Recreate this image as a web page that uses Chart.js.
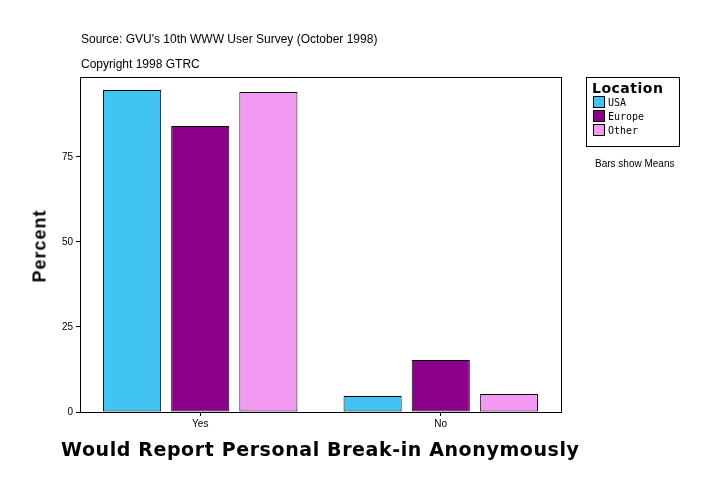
<!DOCTYPE html>
<html><head><meta charset="utf-8">
<script src="https://cdn.jsdelivr.net/npm/chart.js@4"></script>
<style>
body{margin:0;background:#fff;font-family:"Liberation Sans",Arial,sans-serif;}
#wrap{position:relative;width:724px;height:496px;}
canvas{position:absolute;left:0;top:0;}
.t{position:absolute;font-size:12px;color:#000;white-space:nowrap;}
</style></head><body>
<div id="wrap">
<canvas id="c" width="724" height="496"></canvas>
<div class="t" style="left:81px;top:32px">Source: GVU's 10th WWW User Survey (October 1998)</div>
<div class="t" style="left:81px;top:57px">Copyright 1998 GTRC</div>
<div class="t" style="top:246px;font-size:18px;font-weight:bold;letter-spacing:1px;transform:translate(-50%,-50%) rotate(-90deg);left:40px;">Percent</div>
<div class="t" style="left:61px;top:438px;font-size:19px;font-weight:bold;letter-spacing:0.6px;font-family:'DejaVu Sans',sans-serif;">Would Report Personal Break-in Anonymously</div>
<div style="position:absolute;left:586px;top:77px;width:92px;height:68px;border:1px solid #000;font-family:'DejaVu Sans Mono',monospace;">
 <div style="font-size:14px;font-weight:bold;margin:2px 0 0 5px;font-family:'DejaVu Sans',sans-serif;letter-spacing:0.5px">Location</div>
 <div style="font-size:10px;margin-left:6px;line-height:14px;">
  <div><span style="display:inline-block;width:10px;height:10px;background:#42c4f3;border:1px solid #000;vertical-align:-2px;margin-right:3px"></span>USA</div>
  <div><span style="display:inline-block;width:10px;height:10px;background:#8a008a;border:1px solid #000;vertical-align:-2px;margin-right:3px"></span>Europe</div>
  <div><span style="display:inline-block;width:10px;height:10px;background:#f29af2;border:1px solid #000;vertical-align:-2px;margin-right:3px"></span>Other</div>
 </div>
</div>
<div class="t" style="left:595px;top:158px;font-size:10px">Bars show Means</div>
</div>
<script>
const categories=["Yes","No"];
const seriesNames=["USA","Europe","Other"];
const usa=[94.7,4.7];
const europe=[84.1,15.3];
const other=[94.1,5.3];
const yTicks=[0,25,50,75];
const colors=["#42c4f3","#8a008a","#f29af2"];
const frame={id:'frame',afterDraw(ch){const a=ch.chartArea,x=ch.ctx;x.save();x.strokeStyle='#000';x.lineWidth=1;x.strokeRect(Math.round(a.left)+0.5,Math.round(a.top)+0.5,Math.round(a.right-a.left),Math.round(a.bottom-a.top));x.restore();}};
new Chart(document.getElementById('c'),{type:'bar',
data:{labels:categories,datasets:[usa,europe,other].map((d,i)=>({label:seriesNames[i],data:d,backgroundColor:colors[i],borderColor:'#000',borderWidth:1,borderSkipped:false,categoryPercentage:0.85,barPercentage:0.853}))},
options:{responsive:false,animation:false,devicePixelRatio:1,
layout:{padding:{left:0,top:77,right:163,bottom:0}},
plugins:{legend:{display:false},tooltip:{enabled:false}},
scales:{
x:{afterFit(s){s.height=84;},grid:{offset:false,drawOnChartArea:false,tickLength:4,color:'#000'},border:{color:'#000'},ticks:{color:'#000',font:{size:10,family:'Liberation Sans'},padding:2}},
y:{min:0,max:98.5,afterFit(s){s.width=80;},afterBuildTicks(s){s.ticks=yTicks.map(v=>({value:v}));},grid:{drawOnChartArea:false,tickLength:4,color:'#000'},border:{color:'#000'},ticks:{color:'#000',font:{size:10,family:'Liberation Sans'},padding:3}}
}},plugins:[frame]});
</script></body></html>
